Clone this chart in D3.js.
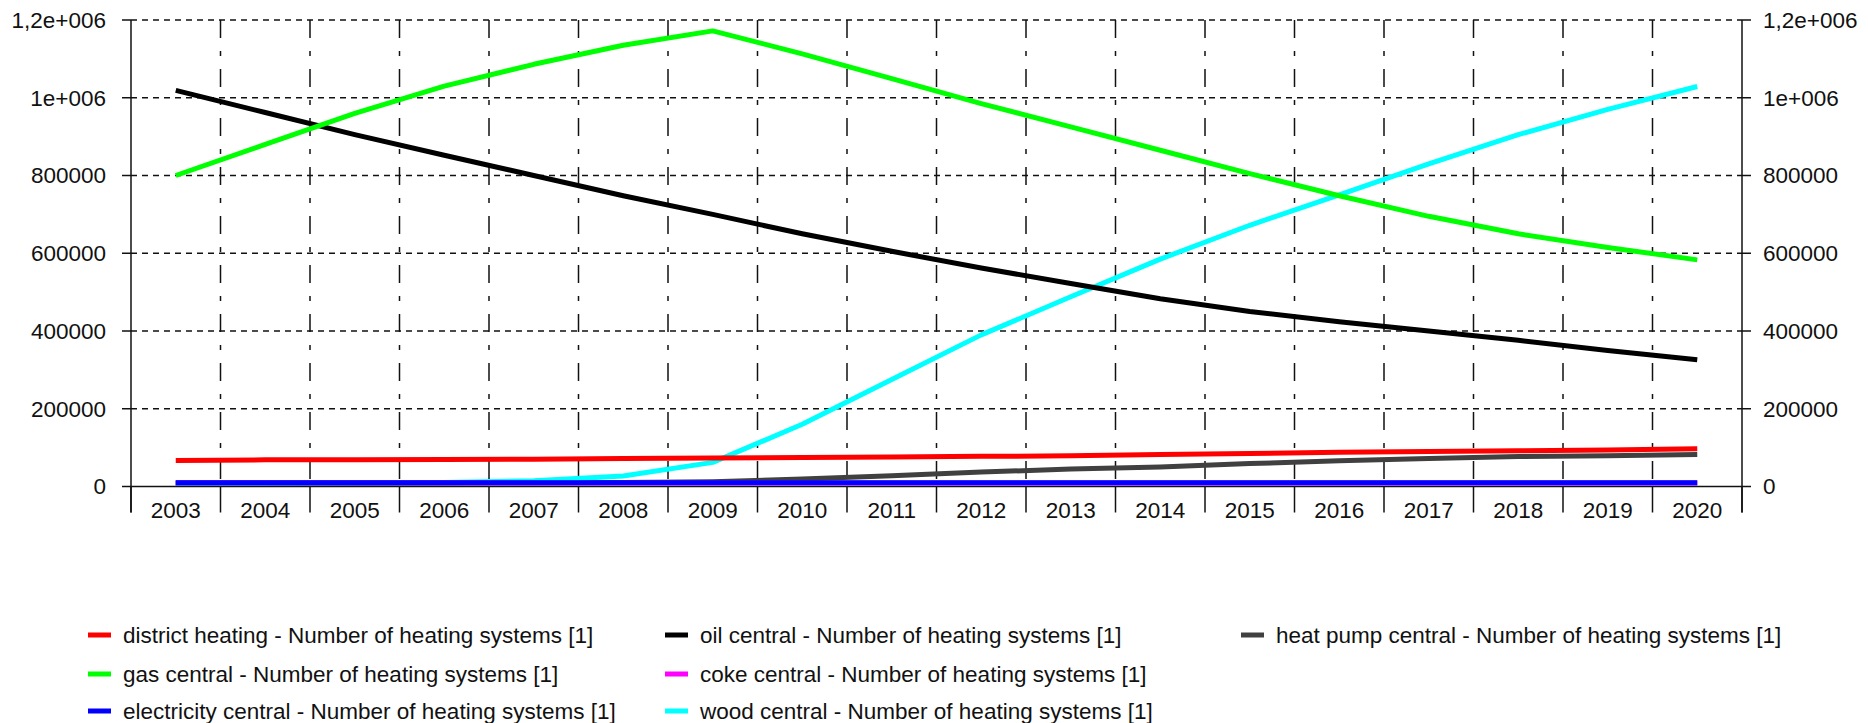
<!DOCTYPE html>
<html>
<head>
<meta charset="utf-8">
<script src="https://cdn.jsdelivr.net/npm/d3@7"></script>
<style>
  html, body { margin: 0; padding: 0; background: #fff; }
  text { font-family: "Liberation Sans", Arial, sans-serif; fill: #111; }
</style>
</head>
<body>
<div id="chart"></div>
<script>
// values
var years = ["2003","2004","2005","2006","2007","2008","2009","2010","2011","2012","2013","2014","2015","2016","2017","2018","2019","2020"];
var yTicks = [0, 200000, 400000, 600000, 800000, 1000000, 1200000];
var yTickLabels = ["0", "200000", "400000", "600000", "800000", "1e+006", "1,2e+006"];

var districtHeating = [67000, 68500, 69000, 69500, 70000, 72000, 73000, 74500, 76000, 77500, 79000, 82000, 85000, 88000, 90000, 92000, 94000, 97000];
var gasCentral = [800000, 880000, 960000, 1030000, 1086000, 1135000, 1172000, 1113000, 1049000, 985000, 925000, 865000, 805000, 748000, 695000, 650000, 615000, 583000];
var electricityCentral = [9500, 9500, 9500, 9500, 9500, 9500, 9500, 9500, 9500, 9500, 9500, 9500, 9500, 9500, 9500, 9500, 9500, 9500];
var oilCentral = [1019000, 962000, 905000, 852000, 800000, 748000, 700000, 650000, 605000, 562000, 522000, 483000, 450000, 424000, 400000, 376000, 350000, 326000];
var cokeCentral = [9500, 9500, 9500, 9500, 9000, 9000, 9000, 9000, 9000, 9000, 9000, 9000, 9000, 9000, 9000, 9000, 9000, 9000];
var woodCentral = [9000, 9000, 9500, 10000, 15000, 27000, 62000, 160000, 275000, 390000, 488000, 585000, 672000, 750000, 830000, 905000, 970000, 1029000];
var heatPumpCentral = [8500, 8500, 8500, 9000, 9500, 10000, 12000, 19000, 27500, 37000, 45000, 50000, 59000, 66000, 72000, 77000, 79000, 82000];

var seriesNames = [
  "district heating - Number of heating systems [1]",
  "gas central - Number of heating systems [1]",
  "electricity central - Number of heating systems [1]",
  "oil central - Number of heating systems [1]",
  "coke central - Number of heating systems [1]",
  "wood central - Number of heating systems [1]",
  "heat pump central - Number of heating systems [1]"
];
var seriesColors = ["#ff0000", "#00ff00", "#0000ff", "#000000", "#ff00ff", "#00ffff", "#404040"];
var seriesValues = [districtHeating, gasCentral, electricityCentral, oilCentral, cokeCentral, woodCentral, heatPumpCentral];

var W = 1868, H = 723;
var plotL = 131, plotR = 1742, plotT = 20, plotB = 486.5;

var svg = d3.select("#chart").append("svg")
  .attr("width", W).attr("height", H)
  .style("display", "block");

var x = d3.scaleBand().domain(years).range([plotL, plotR]).padding(0);
var y = d3.scaleLinear().domain([0, 1200000]).range([plotB, plotT]);

var grid = svg.append("g").attr("class", "grid");

// horizontal grid
grid.selectAll(".hgrid")
  .data(yTicks.slice(1))
  .enter().append("line")
    .attr("x1", plotL).attr("x2", plotR)
    .attr("y1", function(d) { return y(d); })
    .attr("y2", function(d) { return y(d); })
    .attr("stroke", "#111")
    .attr("stroke-width", 1.5)
    .attr("stroke-dasharray", "6,5");

// vertical grid at band edges
var edges = years.map(function(d) { return x(d); }).concat([plotR]);
grid.selectAll(".vgrid")
  .data(edges.slice(1, -1))
  .enter().append("line")
    .attr("x1", function(d) { return d; }).attr("x2", function(d) { return d; })
    .attr("y1", plotT).attr("y2", plotB)
    .attr("stroke", "#111")
    .attr("stroke-width", 1.5)
    .attr("stroke-dasharray", "18,13,5,13");

// x ticks below the axis
grid.selectAll(".xtick")
  .data(edges)
  .enter().append("line")
    .attr("x1", function(d) { return d; }).attr("x2", function(d) { return d; })
    .attr("y1", plotB).attr("y2", plotB + 26)
    .attr("stroke", "#111")
    .attr("stroke-width", 1.5);

// axes lines
svg.append("line").attr("x1", plotL).attr("x2", plotL).attr("y1", plotT).attr("y2", plotB + 26)
  .attr("stroke", "#111").attr("stroke-width", 1.5);
svg.append("line").attr("x1", plotR).attr("x2", plotR).attr("y1", plotT).attr("y2", plotB + 26)
  .attr("stroke", "#111").attr("stroke-width", 1.5);
svg.append("line").attr("x1", plotL).attr("x2", plotR).attr("y1", plotB).attr("y2", plotB)
  .attr("stroke", "#111").attr("stroke-width", 1.5);

// y ticks + labels, both sides
var yl = svg.append("g");
yTicks.forEach(function(t, i) {
  yl.append("line").attr("x1", plotL - 9).attr("x2", plotL).attr("y1", y(t)).attr("y2", y(t))
    .attr("stroke", "#111").attr("stroke-width", 1.5);
  yl.append("line").attr("x1", plotR).attr("x2", plotR + 9).attr("y1", y(t)).attr("y2", y(t))
    .attr("stroke", "#111").attr("stroke-width", 1.5);
  yl.append("text").attr("x", plotL - 25).attr("y", y(t)).attr("dy", "0.35em")
    .attr("text-anchor", "end").attr("font-size", "22.5px").text(yTickLabels[i]);
  yl.append("text").attr("x", plotR + 21).attr("y", y(t)).attr("dy", "0.35em")
    .attr("text-anchor", "start").attr("font-size", "22.5px").text(yTickLabels[i]);
});

// x labels
svg.append("g").selectAll("text")
  .data(years)
  .enter().append("text")
    .attr("x", function(d) { return x(d) + x.bandwidth() / 2; })
    .attr("y", plotB + 31)
    .attr("text-anchor", "middle")
    .attr("font-size", "22.5px")
    .text(function(d) { return d; });

// lines, first series ends on top
var line = d3.line()
  .x(function(d, i) { return x(years[i]) + x.bandwidth() / 2; })
  .y(function(d) { return y(d); });

var order = d3.range(seriesValues.length).reverse();
svg.append("g").selectAll("path")
  .data(order)
  .enter().append("path")
    .attr("d", function(k) { return line(seriesValues[k]); })
    .attr("fill", "none")
    .attr("stroke", function(k) { return seriesColors[k]; })
    .attr("stroke-width", 5)
    .attr("stroke-linejoin", "round");

// legend: 3 rows, column by column
var legX = [88, 665, 1241];
var legY = [635, 674, 711];
var leg = svg.append("g").selectAll("g")
  .data(seriesNames)
  .enter().append("g")
    .attr("transform", function(d, i) {
      return "translate(" + legX[Math.floor(i / 3)] + "," + legY[i % 3] + ")";
    });
leg.append("line")
  .attr("x1", 0).attr("x2", 23).attr("y1", 0).attr("y2", 0)
  .attr("stroke", function(d, i) { return seriesColors[i]; })
  .attr("stroke-width", 5);
leg.append("text")
  .attr("x", 35).attr("y", 0).attr("dy", "0.35em")
  .attr("font-size", "22.5px")
  .text(function(d) { return d; });
</script>
</body>
</html>
